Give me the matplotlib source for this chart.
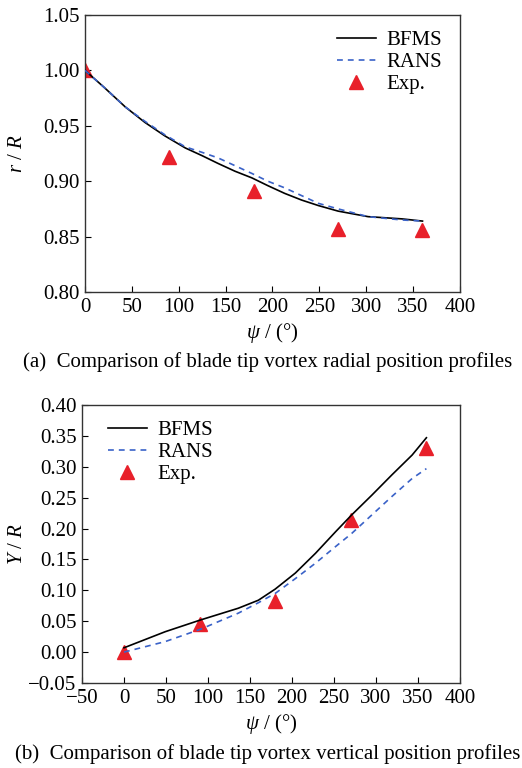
import matplotlib
matplotlib.use("Agg")
import matplotlib.pyplot as plt
from matplotlib.ticker import FuncFormatter

plt.rcParams['font.family'] = ['Liberation Serif', 'DejaVu Serif']
plt.rcParams['mathtext.fontset'] = 'custom'
plt.rcParams['mathtext.rm'] = 'Liberation Serif'
plt.rcParams['mathtext.it'] = 'Liberation Serif:italic'

# Panel (a): radial position r/R vs wake age psi
a_x = [0, 20, 43, 64, 85, 107, 125, 142, 160, 178, 195, 213, 231, 249, 270, 302, 338, 360]
a_bfms = [1.000, 0.985, 0.967, 0.953, 0.941, 0.930, 0.923, 0.916, 0.909, 0.903, 0.896, 0.889, 0.883, 0.878, 0.873, 0.868, 0.866, 0.864]
a_rans = [1.000, 0.985, 0.967, 0.954, 0.942, 0.931, 0.926, 0.921, 0.914, 0.907, 0.900, 0.894, 0.887, 0.880, 0.875, 0.868, 0.865, 0.864]
a_exp_x = [0, 90, 180, 270, 360]
a_exp = [1.000, 0.922, 0.891, 0.857, 0.856]

# Panel (b): vertical position Y/R vs wake age psi
b_x = [0, 49, 91, 136, 160, 180, 204, 228, 252, 271, 295, 319, 343, 360]
b_bfms = [0.007, 0.033, 0.052, 0.071, 0.084, 0.102, 0.128, 0.160, 0.195, 0.222, 0.254, 0.287, 0.319, 0.347]
b_rans = [0.000, 0.017, 0.037, 0.063, 0.080, 0.095, 0.119, 0.144, 0.171, 0.192, 0.222, 0.252, 0.281, 0.297]
b_exp_x = [0, 90, 180, 270, 360]
b_exp = [0.000, 0.045, 0.083, 0.214, 0.331]

W, H = 522, 768
fig = plt.figure(figsize=(W/100, H/100), dpi=100)

def box(l, t, r, b):
    return [l/W, 1 - b/H, (r-l)/W, (b-t)/H]

blue = '#3a62c8'
red = '#e8202a'
fs = 15

def minus_fmt(fmt):
    return FuncFormatter(lambda v, p: (fmt % v).replace('-', '\u2212'))

def style(ax):
    ax.tick_params(direction='in', labelsize=fs, length=4, width=0.8, pad=4)
    for s in ax.spines.values():
        s.set_linewidth(1.0)
        s.set_color('#333333')

def draw(ax, x, bfms, rans, ex, ey):
    ax.plot(ex, ey, '^', color=red, ms=10, mec=red, label='Exp.', zorder=2)
    ax.plot(x, bfms, '-', color='black', lw=1.2, label='BFMS', zorder=3)
    ax.plot(x, rans, '--', color=blue, lw=1.2, dashes=(3.5, 3), label='RANS', zorder=3)

def legend(ax, anchor):
    h, l = ax.get_legend_handles_labels()
    ax.legend([h[1], h[2], h[0]], [l[1], l[2], l[0]], loc='upper left',
              bbox_to_anchor=anchor, frameon=False, fontsize=fs,
              handlelength=1.85, handletextpad=0.5, borderaxespad=0, borderpad=0,
              labelspacing=0.12)

ax1 = fig.add_axes(box(85, 15, 460, 292))
draw(ax1, a_x, a_bfms, a_rans, a_exp_x, a_exp)
ax1.set_xlim(0, 400)
ax1.set_ylim(0.80, 1.05)
ax1.set_xticks(range(0, 401, 50))
ax1.set_yticks([0.80, 0.85, 0.90, 0.95, 1.00, 1.05])
ax1.yaxis.set_major_formatter(minus_fmt('%.2f'))
ax1.set_xlabel(r'$\psi$ / (°)', fontsize=fs, labelpad=3)
ax1.set_ylabel(r'$r$ / $R$', fontsize=fs)
ax1.yaxis.set_label_coords((27 - 85) / 375, 0.5)
style(ax1)
legend(ax1, (0.672, 0.945))
fig.text(23/W, 1 - 362/H, '(a)  Comparison of blade tip vortex radial position profiles',
         fontsize=15, va='center', ha='left')

ax2 = fig.add_axes(box(82, 405, 460, 683))
draw(ax2, b_x, b_bfms, b_rans, b_exp_x, b_exp)
ax2.set_xlim(-50, 400)
ax2.set_ylim(-0.05, 0.40)
ax2.set_xticks(range(-50, 401, 50))
ax2.set_yticks([-0.05, 0, 0.05, 0.10, 0.15, 0.20, 0.25, 0.30, 0.35, 0.40])
ax2.yaxis.set_major_formatter(minus_fmt('%.2f'))
ax2.xaxis.set_major_formatter(minus_fmt('%d'))
ax2.set_xlabel(r'$\psi$ / (°)', fontsize=fs, labelpad=3)
ax2.set_ylabel(r'$Y$ / $R$', fontsize=fs)
ax2.yaxis.set_label_coords((27 - 82) / 378, 0.5)
style(ax2)
legend(ax2, (0.069, 0.945))
fig.text(15/W, 1 - 754/H, '(b)  Comparison of blade tip vortex vertical position profiles',
         fontsize=15, va='center', ha='left')

fig.savefig('out.png', dpi=100)
